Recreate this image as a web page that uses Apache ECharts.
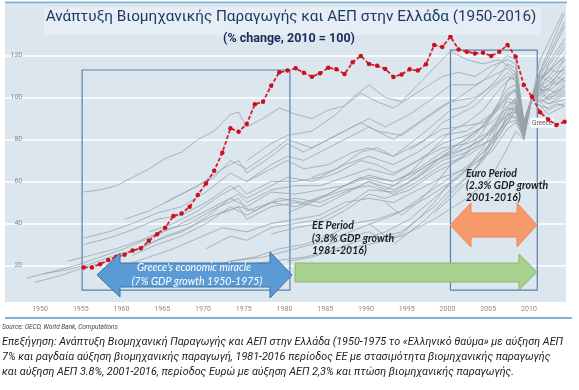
<!DOCTYPE html>
<html><head><meta charset="utf-8">
<script src="https://cdn.jsdelivr.net/npm/echarts@6/dist/echarts.min.js"></script>
<style>html,body{margin:0;padding:0;background:#fff}#c{width:579px;height:390px}</style>
</head><body><div id="c"></div>
<script>
// ---- texts ----
const titleText = 'Ανάπτυξη Βιομηχανικής Παραγωγής και ΑΕΠ στην Ελλάδα (1950-2016)';
const subtitleText = '(% change, 2010 = 100)';
const sourceText = 'Source: OECD, World Bank, Computations';
const captionLines = [
  'Επεξήγηση: Ανάπτυξη Βιομηχανική Παραγωγής και ΑΕΠ στην Ελλάδα (1950-1975 το «Ελληνικό θαύμα» με αύξηση ΑΕΠ',
  '7% και ραγδαία αύξηση βιομηχανικής παραγωγή, 1981-2016 περίοδος ΕΕ με στασιμότητα βιομηχανικής παραγωγής',
  'και αύξηση ΑΕΠ 3.8%, 2001-2016, περίοδος Ευρώ με αύξηση ΑΕΠ 2,3% και πτώση βιομηχανικής παραγωγής.'
];
const miracleText = ["Greece's economic miracle", '(7% GDP growth 1950-1975)'];
const eeText = ['EE Period', '(3.8% GDP growth', '1981-2016)'];
const euroText = ['Euro Period', '(2.3% GDP growth', '2001-2016)'];
const greeceLabel = 'Greece';

// ---- axis ticks ----
const xTickYears = [1950,1955,1960,1965,1970,1975,1980,1985,1990,1995,2000,2005,2010];
const yTickValues = [20,40,60,80,100,120];

// ---- Greece industrial production (2010 = 100) ----
const greece = [
  [1955,19.1],[1956,19.1],[1957,20.6],[1958,22.6],[1959,24.2],[1960,25.1],[1961,27.2],[1962,28.2],
  [1963,31.8],[1964,34.9],[1965,38.0],[1966,43.6],[1967,44.8],[1968,48.0],[1969,53.6],[1970,59.1],
  [1971,65.1],[1972,73.7],[1973,85.3],[1974,83.7],[1975,87.4],[1976,96.8],[1977,98.0],[1978,105.6],
  [1979,112.0],[1980,112.8],[1981,113.9],[1982,111.8],[1983,109.9],[1984,111.5],[1985,114.2],[1986,113.4],
  [1987,111.2],[1988,116.8],[1989,119.8],[1990,116.0],[1991,115.1],[1992,113.6],[1993,109.8],[1994,111.0],
  [1995,113.4],[1996,112.8],[1997,115.8],[1998,125.0],[1999,124.0],[2000,129.0],[2001,122.9],[2002,121.8],
  [2003,121.0],[2004,121.3],[2005,119.8],[2006,121.8],[2007,125.0],[2008,119.4],[2009,106.0],[2010,100.4],
  [2011,93.0],[2012,89.5],[2013,86.9],[2014,88.5]
];

// ---- other countries (grey) ----
const other01 = [[1948,14],[1951,17],[1954,20],[1957,24],[1960,28],[1963,33],[1966,38],[1969,44],[1972,50],[1974,54],[1975,50],[1978,56],[1981,58],[1984,58],[1987,62],[1990,66],[1993,63],[1996,70],[1999,78],[2002,82],[2005,88],[2007,95],[2008,94],[2009,84],[2010,100],[2011,104],[2012,103],[2013,106],[2014,108]];
const other02 = [[1949,12],[1952,15],[1955,19],[1958,22],[1961,27],[1964,32],[1967,36],[1970,43],[1973,52],[1975,48],[1978,55],[1981,54],[1984,56],[1987,58],[1990,62],[1993,60],[1996,65],[1999,72],[2002,76],[2005,83],[2007,92],[2008,93],[2009,82],[2010,100],[2011,102],[2012,100],[2013,101],[2014,103]];
const other03 = [[1955,55],[1957,56],[1959,58],[1961,62],[1963,66],[1965,71],[1967,74],[1969,80],[1971,84],[1973,92],[1974,93],[1975,86],[1977,90],[1979,95],[1981,92],[1983,90],[1985,94],[1987,96],[1989,102],[1991,98],[1993,95],[1995,100],[1997,105],[1999,110],[2001,112],[2003,110],[2005,115],[2007,118],[2008,116],[2009,88],[2010,100],[2011,98],[2012,94],[2013,96],[2014,97]];
const other04 = [[1955,33],[1958,36],[1961,40],[1964,45],[1967,48],[1970,55],[1973,64],[1975,60],[1978,66],[1980,70],[1982,66],[1985,68],[1988,74],[1990,76],[1993,72],[1996,78],[1999,85],[2001,86],[2004,88],[2007,98],[2008,97],[2009,83],[2010,100],[2011,103],[2012,104],[2013,108],[2014,112]];
const other05 = [[1955,30],[1958,33],[1961,37],[1964,42],[1967,44],[1970,50],[1973,58],[1975,52],[1978,58],[1980,62],[1983,60],[1986,64],[1989,70],[1991,68],[1993,64],[1996,70],[1999,76],[2002,78],[2005,84],[2007,92],[2008,90],[2009,80],[2010,100],[2011,106],[2012,110],[2013,114],[2014,118]];
const other06 = [[1953,22],[1956,25],[1959,28],[1962,32],[1965,37],[1968,40],[1971,47],[1974,52],[1975,46],[1978,50],[1981,52],[1984,50],[1987,55],[1990,60],[1993,56],[1996,62],[1999,70],[2002,74],[2005,80],[2007,90],[2008,91],[2009,83],[2010,100],[2011,99],[2012,97],[2013,99],[2014,101]];
const other07 = [[1950,16],[1953,18],[1956,21],[1959,25],[1962,28],[1965,34],[1968,38],[1971,44],[1974,48],[1976,46],[1979,52],[1982,50],[1985,54],[1988,60],[1990,63],[1993,60],[1996,66],[1999,74],[2002,80],[2005,90],[2007,101],[2008,103],[2009,85],[2010,100],[2011,102],[2012,106],[2013,110],[2014,115]];
const other08 = [[1960,42],[1963,46],[1966,52],[1969,58],[1972,66],[1974,70],[1975,64],[1978,72],[1980,78],[1982,74],[1985,80],[1988,86],[1990,90],[1992,86],[1995,92],[1998,100],[2000,106],[2003,106],[2005,110],[2007,114],[2008,110],[2009,86],[2010,100],[2011,108],[2012,115],[2013,120],[2014,126]];
const other09 = [[1961,25],[1964,30],[1967,34],[1970,40],[1973,48],[1975,44],[1978,50],[1981,48],[1984,52],[1987,56],[1990,58],[1993,54],[1996,60],[1999,68],[2002,72],[2005,80],[2007,88],[2008,89],[2009,84],[2010,100],[2011,110],[2012,118],[2013,126],[2014,134]];
const other10 = [[1960,20],[1963,24],[1966,28],[1969,33],[1972,38],[1975,36],[1978,40],[1981,42],[1984,44],[1987,50],[1990,52],[1993,50],[1996,56],[1999,62],[2002,66],[2005,74],[2007,85],[2008,88],[2009,82],[2010,100],[2011,113],[2012,122],[2013,131],[2014,140]];
const other11 = [[1965,50],[1968,56],[1971,62],[1973,70],[1975,66],[1978,74],[1980,80],[1983,76],[1986,82],[1989,88],[1991,84],[1994,82],[1997,90],[2000,98],[2003,100],[2006,108],[2007,112],[2008,108],[2009,87],[2010,100],[2011,101],[2012,99],[2013,100],[2014,102]];
const other12 = [[1963,36],[1966,40],[1969,46],[1972,54],[1974,58],[1975,54],[1978,60],[1981,60],[1984,62],[1987,68],[1990,72],[1993,68],[1996,74],[1999,82],[2002,84],[2005,92],[2007,100],[2008,98],[2009,85],[2010,100],[2011,104],[2012,101],[2013,103],[2014,105]];
const other13 = [[1970,28],[1973,34],[1975,32],[1978,38],[1981,40],[1984,42],[1987,48],[1990,56],[1993,55],[1996,62],[1999,72],[2001,78],[2004,86],[2007,102],[2008,104],[2009,86],[2010,100],[2011,96],[2012,92],[2013,94],[2014,96]];
const other14 = [[1972,45],[1974,48],[1975,42],[1978,48],[1981,50],[1984,48],[1987,54],[1990,60],[1992,56],[1995,62],[1998,70],[2001,74],[2004,80],[2007,94],[2008,95],[2009,84],[2010,100],[2011,105],[2012,108],[2013,106],[2014,110]];
const other15 = [[1975,60],[1978,68],[1980,72],[1982,70],[1985,76],[1988,82],[1990,86],[1993,80],[1996,88],[1999,96],[2001,100],[2004,108],[2007,120],[2008,118],[2009,89],[2010,100],[2011,104],[2012,106],[2013,110],[2014,108]];
const other16 = [[1970,18],[1973,22],[1976,24],[1979,28],[1982,30],[1985,34],[1988,40],[1991,42],[1994,46],[1997,54],[2000,62],[2003,70],[2006,82],[2008,94],[2009,81],[2010,100],[2011,112],[2012,120],[2013,128],[2014,136]];
const other17 = [[1980,22],[1983,24],[1986,28],[1989,32],[1992,36],[1995,42],[1998,52],[2001,62],[2004,74],[2006,84],[2008,96],[2009,82],[2010,100],[2011,108],[2012,112],[2013,118],[2014,124]];
const other18 = [[1985,30],[1988,34],[1990,36],[1992,32],[1994,35],[1996,42],[1998,50],[2000,60],[2002,66],[2004,76],[2006,90],[2007,100],[2008,104],[2009,83],[2010,100],[2011,106],[2012,104],[2013,110],[2014,114]];
const other19 = [[1990,40],[1992,34],[1994,36],[1996,42],[1998,48],[2000,56],[2002,62],[2004,70],[2006,82],[2008,94],[2009,80],[2010,100],[2011,118],[2012,126],[2013,134],[2014,142]];
const other20 = [[1992,50],[1994,44],[1996,50],[1998,58],[2000,68],[2002,74],[2004,84],[2006,98],[2007,108],[2008,110],[2009,86],[2010,100],[2011,110],[2012,112],[2013,116],[2014,120]];
const other21 = [[1980,45],[1983,50],[1986,56],[1989,62],[1991,60],[1993,58],[1995,64],[1997,72],[2000,84],[2002,88],[2004,94],[2006,104],[2008,112],[2009,88],[2010,100],[2011,100],[2012,97],[2013,98],[2014,99]];
const other22 = [[1983,62],[1986,66],[1989,74],[1991,76],[1993,72],[1995,78],[1997,84],[2000,94],[2002,96],[2004,102],[2006,110],[2007,116],[2008,114],[2009,88],[2010,100],[2011,102],[2012,104],[2013,102],[2014,104]];
const other23 = [[1978,35],[1981,38],[1984,40],[1987,46],[1990,54],[1992,52],[1995,56],[1998,64],[2001,70],[2004,80],[2007,96],[2008,99],[2009,84],[2010,100],[2011,107],[2012,114],[2013,112],[2014,118]];
const other24 = [[1975,70],[1978,78],[1980,82],[1983,84],[1986,92],[1988,100],[1990,106],[1992,100],[1994,98],[1996,106],[1998,114],[2000,122],[2002,118],[2004,116],[2006,118],[2008,112],[2009,87],[2010,100],[2011,96],[2012,95],[2013,97],[2014,96]];
const other25 = [[1958,10],[1962,12],[1966,14],[1970,17],[1974,20],[1978,22],[1982,24],[1986,27],[1990,30],[1994,34],[1998,42],[2002,52],[2005,62],[2007,76],[2008,84],[2009,80],[2010,100],[2011,108],[2012,112],[2013,116],[2014,119]];
const other26 = [[1965,14],[1969,17],[1973,22],[1977,24],[1981,28],[1985,32],[1989,38],[1993,44],[1997,52],[2001,62],[2004,72],[2007,90],[2008,96],[2009,84],[2010,100],[2011,104],[2012,99],[2013,102],[2014,106]];
const other27 = [[1995,60],[1997,66],[1999,72],[2001,76],[2003,82],[2005,92],[2007,104],[2008,106],[2009,85],[2010,100],[2011,112],[2012,116],[2013,122],[2014,128]];
const other28 = [[1995,75],[1997,80],[1999,88],[2001,92],[2003,96],[2005,104],[2007,110],[2008,108],[2009,87],[2010,100],[2011,98],[2012,100],[2013,104],[2014,107]];
const other29 = [[1998,45],[2000,52],[2002,60],[2004,72],[2006,88],[2008,100],[2009,82],[2010,100],[2011,110],[2012,108],[2013,112],[2014,113]];
const other30 = [[1993,30],[1995,36],[1997,42],[1999,50],[2001,58],[2003,66],[2005,76],[2007,92],[2008,98],[2009,81],[2010,100],[2011,105],[2012,110],[2013,107],[2014,109]];
const others = [other01,other02,other03,other04,other05,other06,other07,other08,other09,other10,
  other11,other12,other13,other14,other15,other16,other17,other18,other19,other20,
  other21,other22,other23,other24,other25,other26,other27,other28,other29,other30];

// ---- annotation boxes (data coords) ----
const miracleBox = [[1954.8, 8.3], [1980.3, 113.1]];
const euroBox = [[2000.0, 8.3], [2010.65, 122.6]];

const chart = echarts.init(document.getElementById('c'), null, {renderer: 'canvas'});

const series = others.map((d, i) => ({
  type: 'line', name: 'c' + i, data: d, showSymbol: false, symbol: 'none',
  lineStyle: {color: '#97a2ab', width: 0.9, opacity: 0.85},
  silent: true, z: 3, animation: false
}));
series.push({
  type: 'line', name: 'Greece', data: greece, z: 5, animation: false,
  symbol: 'circle', symbolSize: 4.5,
  itemStyle: {color: '#c8101e'},
  lineStyle: {color: '#d8202c', width: 1.8, type: [4, 2]},
  markArea: {
    silent: true,
    itemStyle: {color: 'rgba(0,0,0,0)', borderColor: '#5b80a8', borderWidth: 1.2},
    data: [
      [{coord: miracleBox[0]}, {coord: miracleBox[1]}],
      [{coord: euroBox[0]}, {coord: euroBox[1]}]
    ]
  },
  markPoint: {
    silent: true, symbol: 'rect', symbolSize: [23, 10],
    itemStyle: {color: '#ffffff'},
    label: {show: true, formatter: greeceLabel, color: '#555', fontSize: 6.5, fontFamily: 'Roboto'},
    data: [{coord: [2011.25, 87.9]}]
  }
});

const font = 'Lato, Roboto, sans-serif';
function txt(text, x, y, f, fill, align) {
  return {type: 'text', z: 20, style: {text, x, y, font: f, fill, align: align || 'left', verticalAlign: 'middle'}};
}
const graphics = [
  {type: 'rect', z: -10, shape: {x: 5, y: 4, width: 561, height: 298}, style: {fill: '#dce6ef'}},
  {type: 'line', z: 20, shape: {x1: 5, y1: 2.5, x2: 567, y2: 2.5}, style: {stroke: '#80b2d8', lineWidth: 2}},
  {type: 'rect', z: 15, shape: {x: 44, y: 7, width: 497, height: 28}, style: {fill: '#e6eef5'}},
  txt(titleText, 291, 17, '15.3px Roboto', '#1f3a60', 'center'),
  txt(subtitleText, 289, 39, 'bold 12.5px Roboto', '#1a2c5a', 'center'),
  {type: 'line', z: 20, shape: {x1: 5, y1: 318, x2: 572, y2: 318}, style: {stroke: '#80b2d8', lineWidth: 2}},
  txt(sourceText, 2, 327, 'italic 6.5px Roboto', '#444', 'left'),
  txt(captionLines[0], 2, 342, 'italic 10.8px Roboto', '#222', 'left'),
  txt(captionLines[1], 2, 357, 'italic 10.8px Roboto', '#222', 'left'),
  txt(captionLines[2], 2, 372, 'italic 10.8px Roboto', '#222', 'left'),
  // arrows
  {type: 'polygon', z: 18, shape: {points: [[97,275],[120,253],[120,263],[270,263],[270,252],[292,275],[270,298],[270,287],[120,287],[120,297]]},
    style: {fill: '#5b9bd5', stroke: '#41719c', lineWidth: 1}},
  {type: 'polygon', z: 18, shape: {points: [[295,263],[519,263],[519,254],[537,272],[519,290],[519,282],[295,282]]},
    style: {fill: '#a9d18e', stroke: '#8ab870', lineWidth: 1}},
  {type: 'polygon', z: 18, shape: {points: [[450,225],[471,203],[471,213],[517,213],[517,203],[537,225],[517,247],[517,237],[471,237],[471,247]]},
    style: {fill: '#f69a6c', stroke: '#e98a5c', lineWidth: 1}},
  txt(miracleText[0], 194, 268, 'italic 10.5px ' + font, '#ffffff', 'center'),
  txt(miracleText[1], 197, 282, 'italic 10.5px ' + font, '#ffffff', 'center'),
  txt(eeText[0], 312, 226, 'bold italic 10.5px ' + font, '#1e1e1e', 'left'),
  txt(eeText[1], 312, 239, 'bold italic 10.5px ' + font, '#1e1e1e', 'left'),
  txt(eeText[2], 312, 251, 'bold italic 10.5px ' + font, '#1e1e1e', 'left'),
  txt(euroText[0], 466, 174, 'bold italic 10.5px ' + font, '#1e1e1e', 'left'),
  txt(euroText[1], 466, 186, 'bold italic 10.5px ' + font, '#1e1e1e', 'left'),
  txt(euroText[2], 466, 198, 'bold italic 10.5px ' + font, '#1e1e1e', 'left')
];

chart.setOption({
  animation: false,
  backgroundColor: '#ffffff',
  grid: {left: 2.25, right: 12, top: 13.5, bottom: 82.5, containLabel: false},
  xAxis: {
    type: 'value', min: 1945, max: 2014.3, interval: 5,
    axisLine: {show: false}, axisTick: {show: false}, splitLine: {show: false},
    axisLabel: {
      margin: -2, color: '#8a8a8a', fontSize: 7, fontFamily: 'Roboto',
      showMinLabel: false, showMaxLabel: false, padding: [0, 6, 0, 0],
      formatter: v => xTickYears.includes(v) ? String(v) : ''
    }
  },
  yAxis: {
    type: 'value', min: 0, max: 140, interval: 20,
    axisLine: {show: false}, axisTick: {show: false},
    splitLine: {show: true, showMinLine: false, showMaxLine: false, lineStyle: {color: '#ffffff', width: 1.5}},
    axisLabel: {
      inside: true, margin: 20, align: 'right', color: '#8a8a8a', fontSize: 7, fontFamily: 'Roboto',
      showMinLabel: false, showMaxLabel: false, padding: [0, 0, 8, 0],
      formatter: v => yTickValues.includes(v) ? String(v) : ''
    }
  },
  series,
  graphic: {elements: graphics}
});
</script></body></html>
